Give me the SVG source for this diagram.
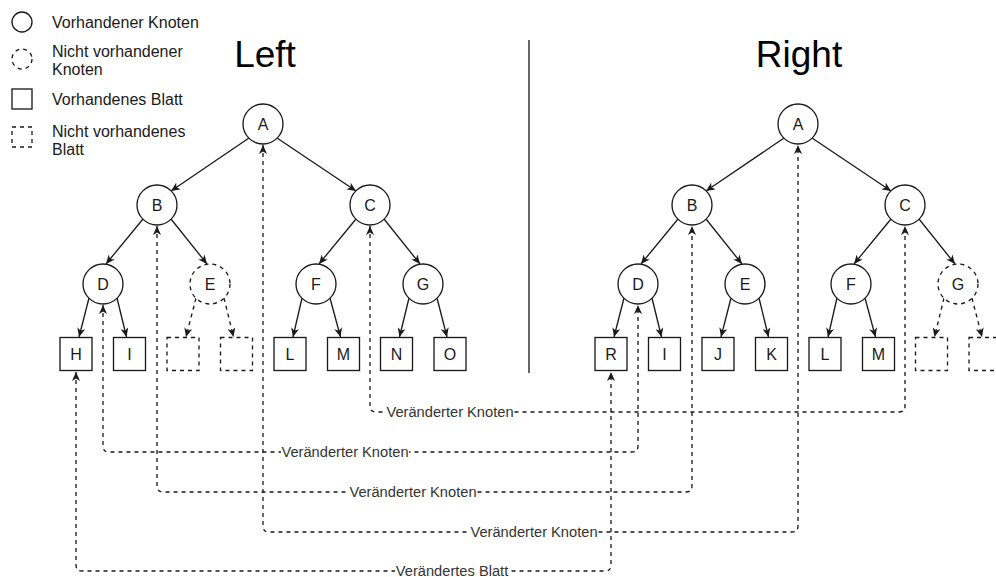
<svg xmlns="http://www.w3.org/2000/svg" width="996" height="577" viewBox="0 0 996 577">
  <style>
    text { font-family: "Liberation Sans", Arial, Helvetica, sans-serif; fill: #1a1a1a; }
    .t { font-size: 16px; text-anchor: middle; }
    .lg { font-size: 16px; }
    .title { font-size: 37px; text-anchor: middle; fill: #000; }
    .cl { font-size: 14.67px; text-anchor: middle; fill: #333; }
    .n { fill: #fff; stroke: #1a1a1a; stroke-width: 1.33; }
    .nd { fill: #fff; stroke: #1a1a1a; stroke-width: 1.33; stroke-dasharray: 4 4; }
    .e { fill: none; stroke: #1a1a1a; stroke-width: 1.33; marker-end: url(#arr); }
    .ed { fill: none; stroke: #1a1a1a; stroke-width: 1.33; stroke-dasharray: 4 4; marker-end: url(#arr); }
    .c { fill: none; stroke: #1a1a1a; stroke-width: 1.33; stroke-dasharray: 4 4; marker-start: url(#arr); marker-end: url(#arr); }
    .bg { fill: #fff; }
  </style>
  <defs>
    <marker id="arr" viewBox="0 0 9 8" refX="9" refY="4" markerWidth="9" markerHeight="8" markerUnits="userSpaceOnUse" orient="auto-start-reverse">
      <path d="M0,0 L9,4 L0,8 L2.5,4 Z" fill="#1a1a1a"/>
    </marker>
  </defs>
  <rect width="996" height="577" fill="#fff"/>

  <!-- legend -->
  <g id="legend">
    <circle class="n" cx="22" cy="22" r="10"/>
    <text class="lg" x="52" y="28">Vorhandener Knoten</text>
    <circle class="nd" cx="22" cy="59" r="10"/>
    <text class="lg" x="52" y="57">Nicht vorhandener</text>
    <text class="lg" x="52" y="75">Knoten</text>
    <rect class="n" x="12" y="89" width="20" height="20"/>
    <text class="lg" x="52" y="105">Vorhandenes Blatt</text>
    <rect class="nd" x="12" y="127" width="20" height="20"/>
    <text class="lg" x="52" y="137">Nicht vorhandenes</text>
    <text class="lg" x="52" y="155">Blatt</text>
  </g>

  <!-- titles and divider -->
  <g id="titles">
    <text class="title" x="265" y="67">Left</text>
    <text class="title" x="799" y="67">Right</text>
    <path d="M529,40 V373" stroke="#1a1a1a" stroke-width="1.33" fill="none"/>
  </g>

  <!-- tree edges -->
  <g id="tree-edges">
    <!-- left tree -->
    <path class="e" d="M249,138 L171,191"/>
    <path class="e" d="M277,138 L356,191"/>
    <path class="e" d="M143,219 L106,264"/>
    <path class="e" d="M171,219 L207,264"/>
    <path class="e" d="M356,219 L319,264"/>
    <path class="e" d="M384,219 L420,264"/>
    <path class="e" d="M89,298 L79,337"/>
    <path class="e" d="M117,298 L126.5,337"/>
    <path class="ed" d="M196,298 L186,337"/>
    <path class="ed" d="M224,298 L233.5,337"/>
    <path class="e" d="M302,298 L293,337"/>
    <path class="e" d="M330,298 L340.5,337"/>
    <path class="e" d="M409,298 L399.5,337"/>
    <path class="e" d="M437,298 L447,337"/>
    <!-- right tree -->
    <path class="e" d="M784,138 L706,191"/>
    <path class="e" d="M812,138 L891,191"/>
    <path class="e" d="M678,219 L641,264"/>
    <path class="e" d="M706,219 L742,264"/>
    <path class="e" d="M891,219 L854,264"/>
    <path class="e" d="M919,219 L955,264"/>
    <path class="e" d="M624,298 L614,337"/>
    <path class="e" d="M652,298 L661.5,337"/>
    <path class="e" d="M731,298 L721,337"/>
    <path class="e" d="M759,298 L768.5,337"/>
    <path class="e" d="M837,298 L828,337"/>
    <path class="e" d="M865,298 L875.5,337"/>
    <path class="ed" d="M944,298 L934.5,337"/>
    <path class="ed" d="M972,298 L982,337"/>
  </g>

  <!-- left tree nodes -->
  <g id="left-A"><circle class="n" cx="263" cy="124" r="20"/><text class="t" x="263" y="130">A</text></g>
  <g id="left-B"><circle class="n" cx="157" cy="205" r="20"/><text class="t" x="157" y="211">B</text></g>
  <g id="left-C"><circle class="n" cx="370" cy="205" r="20"/><text class="t" x="370" y="211">C</text></g>
  <g id="left-D"><circle class="n" cx="103" cy="284" r="20"/><text class="t" x="103" y="290">D</text></g>
  <g id="left-E"><circle class="nd" cx="210" cy="284" r="20"/><text class="t" x="210" y="290">E</text></g>
  <g id="left-F"><circle class="n" cx="316" cy="284" r="20"/><text class="t" x="316" y="290">F</text></g>
  <g id="left-G"><circle class="n" cx="423" cy="284" r="20"/><text class="t" x="423" y="290">G</text></g>
  <g id="left-H"><rect class="n" x="60" y="337.5" width="32" height="33"/><text class="t" x="76" y="360">H</text></g>
  <g id="left-I"><rect class="n" x="113.5" y="337.5" width="32" height="33"/><text class="t" x="129.5" y="360">I</text></g>
  <g id="left-E1"><rect class="nd" x="167" y="337.5" width="32" height="33"/></g>
  <g id="left-E2"><rect class="nd" x="220.5" y="337.5" width="32" height="33"/></g>
  <g id="left-L"><rect class="n" x="274" y="337.5" width="32" height="33"/><text class="t" x="290" y="360">L</text></g>
  <g id="left-M"><rect class="n" x="327.5" y="337.5" width="32" height="33"/><text class="t" x="343.5" y="360">M</text></g>
  <g id="left-N"><rect class="n" x="380.5" y="337.5" width="32" height="33"/><text class="t" x="396.5" y="360">N</text></g>
  <g id="left-O"><rect class="n" x="434" y="337.5" width="32" height="33"/><text class="t" x="450" y="360">O</text></g>

  <!-- right tree nodes -->
  <g id="right-A"><circle class="n" cx="798" cy="124" r="20"/><text class="t" x="798" y="130">A</text></g>
  <g id="right-B"><circle class="n" cx="692" cy="205" r="20"/><text class="t" x="692" y="211">B</text></g>
  <g id="right-C"><circle class="n" cx="905" cy="205" r="20"/><text class="t" x="905" y="211">C</text></g>
  <g id="right-D"><circle class="n" cx="638" cy="284" r="20"/><text class="t" x="638" y="290">D</text></g>
  <g id="right-E"><circle class="n" cx="745" cy="284" r="20"/><text class="t" x="745" y="290">E</text></g>
  <g id="right-F"><circle class="n" cx="851" cy="284" r="20"/><text class="t" x="851" y="290">F</text></g>
  <g id="right-G"><circle class="nd" cx="958" cy="284" r="20"/><text class="t" x="958" y="290">G</text></g>
  <g id="right-R"><rect class="n" x="595" y="337.5" width="32" height="33"/><text class="t" x="611" y="360">R</text></g>
  <g id="right-I"><rect class="n" x="648.5" y="337.5" width="32" height="33"/><text class="t" x="664.5" y="360">I</text></g>
  <g id="right-J"><rect class="n" x="702" y="337.5" width="32" height="33"/><text class="t" x="718" y="360">J</text></g>
  <g id="right-K"><rect class="n" x="755.5" y="337.5" width="32" height="33"/><text class="t" x="771.5" y="360">K</text></g>
  <g id="right-L"><rect class="n" x="809" y="337.5" width="32" height="33"/><text class="t" x="825" y="360">L</text></g>
  <g id="right-M"><rect class="n" x="862.5" y="337.5" width="32" height="33"/><text class="t" x="878.5" y="360">M</text></g>
  <g id="right-G1"><rect class="nd" x="915.5" y="337.5" width="32" height="33"/></g>
  <g id="right-G2"><rect class="nd" x="969" y="337.5" width="32" height="33"/></g>

  <!-- change connectors between the two trees -->
  <g id="connectors">
    <path class="c" d="M370,226 V406 Q370,412 376,412 H899 Q905,412 905,406 V226"/>
    <rect class="bg" x="386" y="404" width="128" height="16"/>
    <text class="cl" x="450" y="417">Veränderter Knoten</text>

    <path class="c" d="M103,305 V446 Q103,452 109,452 H632 Q638,452 638,446 V305"/>
    <rect class="bg" x="281" y="444" width="128" height="16"/>
    <text class="cl" x="345" y="457">Veränderter Knoten</text>

    <path class="c" d="M157,226 V486 Q157,492 163,492 H686 Q692,492 692,486 V226"/>
    <rect class="bg" x="349" y="484" width="128" height="16"/>
    <text class="cl" x="413" y="497">Veränderter Knoten</text>

    <path class="c" d="M263,145 V526 Q263,532 269,532 H792 Q798,532 798,526 V145"/>
    <rect class="bg" x="470" y="524" width="128" height="16"/>
    <text class="cl" x="534" y="537">Veränderter Knoten</text>

    <path class="c" d="M76,372 V565 Q76,571 82,571 H605 Q611,571 611,565 V372"/>
    <rect class="bg" x="395" y="563" width="114" height="14"/>
    <text class="cl" x="452" y="575.5">Verändertes Blatt</text>
  </g>
</svg>
